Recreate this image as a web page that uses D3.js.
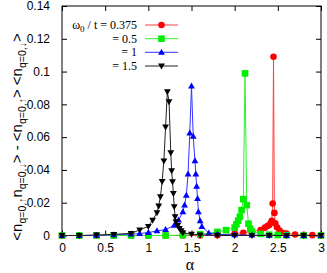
<!DOCTYPE html>
<html><head><meta charset="utf-8">
<script src="https://cdn.jsdelivr.net/npm/d3@7"></script>
<style>body{margin:0;background:#fff}svg{display:block}</style>
</head><body>
<svg id="c" width="327" height="273"></svg>
<script>
const xTicks = [0, 0.5, 1, 1.5, 2, 2.5, 3];
const yTicks = [0, 0.02, 0.04, 0.06, 0.08, 0.1, 0.12, 0.14];
const legendLabels = ["= 0.375", "= 0.5", "= 1", "= 1.5"];

const redX = [0,0.2,0.4,0.6,0.8,1.0,1.2,1.4,1.6,1.8,2.0,2.1,2.2,2.3,2.35,2.38,2.4,2.42,2.43,2.44,2.45,2.46,2.47,2.49,2.52,2.56,2.6,2.7,2.8,2.9,3.0];
const redY = [0,0,0,0,0,0,0,0,0,0.0002,0.0012,0.0017,0.0024,0.0034,0.0048,0.0058,0.0064,0.0078,0.009,0.0195,0.109,0.0138,0.0075,0.005,0.003,0.0015,0.0012,0.0006,0.0004,0.0002,0.0001];

const greenX = [0,0.2,0.4,0.6,0.8,1.0,1.2,1.4,1.6,1.8,1.9,2.0,2.02,2.04,2.06,2.08,2.1,2.12,2.14,2.16,2.18,2.2,2.3,2.4,2.5,2.6,2.8,3.0];
const greenY = [0,0,0,0,0,0,0,0.0002,0.0008,0.0022,0.0033,0.0048,0.0068,0.009,0.0115,0.0155,0.0222,0.0989,0.0185,0.0072,0.0042,0.0025,0.001,0.0005,0.0003,0.0002,0,0];

const blueX = [0,0.2,0.4,0.6,0.8,0.9,1.0,1.1,1.2,1.3,1.35,1.4,1.42,1.44,1.46,1.48,1.5,1.52,1.54,1.55,1.56,1.57,1.58,1.6,1.62,1.7,1.8,2.0,2.2,2.4,2.6,2.8,3.0];
const blueY = [0,0,0.0001,0.0004,0.0008,0.0012,0.0018,0.0028,0.0036,0.0062,0.0094,0.0145,0.0185,0.0245,0.0375,0.0625,0.0912,0.0605,0.0455,0.0375,0.03,0.0225,0.0145,0.009,0.0055,0.0015,0.0008,0.0004,0.0002,0.0001,0,0,0];

const blackX = [0,0.2,0.4,0.6,0.8,0.9,1.0,1.05,1.1,1.12,1.14,1.16,1.18,1.2,1.22,1.24,1.26,1.27,1.28,1.29,1.3,1.31,1.32,1.34,1.36,1.38,1.4,1.5,1.6,1.8,2.0,2.2,2.4,2.6,2.8,3.0];
const blackY = [0,0,0.0003,0.0007,0.0013,0.0034,0.0056,0.0094,0.014,0.018,0.0237,0.033,0.0455,0.0663,0.0877,0.0816,0.0505,0.0395,0.0328,0.0257,0.0176,0.0115,0.0084,0.0062,0.0044,0.003,0.0017,0.0008,0.0004,0.0002,0.0001,0,0,0,0,0];

const series = [
  {x: redX, y: redY, color: "#ff0000", line: "#ff4040", shape: "circle"},
  {x: greenX, y: greenY, color: "#00ee00", line: "#33ee33", shape: "square"},
  {x: blueX, y: blueY, color: "#0000ff", line: "#3333ff", shape: "up"},
  {x: blackX, y: blackY, color: "#000000", line: "#222222", shape: "down"}
];

const svg = d3.select("#c");
const L = 62, R = 321, T = 6, B = 235.5;
const x = d3.scaleLinear().domain([0, 3]).range([L, R]);
const y = d3.scaleLinear().domain([0, 0.14]).range([B, T]);
const sans = "'Liberation Sans', Arial, sans-serif";
const serif = "'Liberation Serif', 'Times New Roman', serif";

function marker(g, shape, color, cx, cy) {
  if (shape === "circle") {
    g.append("circle").attr("cx", cx).attr("cy", cy).attr("r", 3.3).attr("fill", color);
  } else if (shape === "square") {
    g.append("rect").attr("x", cx - 3.3).attr("y", cy - 3.3).attr("width", 6.6).attr("height", 6.6).attr("fill", color);
  } else if (shape === "up") {
    g.append("path").attr("d", `M${cx},${cy-3.6}L${cx+3.4},${cy+2.4}L${cx-3.4},${cy+2.4}Z`).attr("fill", color);
  } else {
    g.append("path").attr("d", `M${cx},${cy+3.6}L${cx+3.4},${cy-2.4}L${cx-3.4},${cy-2.4}Z`).attr("fill", color);
  }
}

// axes
const fmt = d => String(+d.toFixed(2));
const xAxis = svg.append("g").attr("transform", `translate(0,${B})`)
  .call(d3.axisBottom(x).tickValues(xTicks).tickSize(-5).tickPadding(8).tickFormat(fmt));
const xAxisTop = svg.append("g").attr("transform", `translate(0,${T})`)
  .call(d3.axisTop(x).tickValues(xTicks).tickSize(-5).tickFormat(""));
const yAxis = svg.append("g").attr("transform", `translate(${L},0)`)
  .call(d3.axisLeft(y).tickValues(yTicks).tickSize(-5).tickPadding(12).tickFormat(fmt));
const yAxisR = svg.append("g").attr("transform", `translate(${R},0)`)
  .call(d3.axisRight(y).tickValues(yTicks).tickSize(-5).tickFormat(""));
[xAxis, xAxisTop, yAxis, yAxisR].forEach(a => {
  a.select(".domain").remove();
  a.selectAll("line").attr("stroke", "#000");
  a.selectAll("text").attr("font-family", sans).attr("font-size", 12).attr("fill", "#000");
});
svg.append("rect").attr("x", L).attr("y", T).attr("width", R - L).attr("height", B - T)
  .attr("fill", "none").attr("stroke", "#000").attr("stroke-width", 1);

// series
const line = d3.line().x(d => x(d[0])).y(d => y(d[1]));
series.forEach(s => {
  const pts = s.x.map((v, i) => [v, s.y[i]]);
  svg.append("path").datum(pts).attr("d", line).attr("fill", "none")
    .attr("stroke", s.line).attr("stroke-width", 1);
  const g = svg.append("g");
  pts.forEach(p => marker(g, s.shape, s.color, x(p[0]), y(p[1])));
});

// legend
const lg = svg.append("g");
const rowsY = [25, 38.7, 52.3, 66];
series.forEach((s, i) => {
  const yy = rowsY[i];
  lg.append("line").attr("x1", 145).attr("x2", 178).attr("y1", yy).attr("y2", yy)
    .attr("stroke", s.line).attr("stroke-width", 1);
  marker(lg, s.shape, s.color, 161.5, yy);
  const t = lg.append("text").attr("x", 137).attr("y", yy + 3.8).attr("text-anchor", "end")
    .attr("font-family", serif).attr("font-size", 12).attr("fill", "#000");
  if (i === 0) {
    t.append("tspan").text("ω");
    t.append("tspan").attr("font-size", 9).attr("dy", 3).text("0");
    t.append("tspan").attr("dy", -3).text(" / t " + legendLabels[i]);
  } else {
    t.text(legendLabels[i]);
  }
});

// x label
svg.append("text").attr("x", 190).attr("y", 270).attr("text-anchor", "middle")
  .attr("font-family", serif).attr("font-size", 16).attr("fill", "#000").text("α");

// y label
const yl = svg.append("text").attr("transform", "translate(22,137) rotate(-90)")
  .attr("text-anchor", "middle").attr("font-family", sans).attr("font-size", 15).attr("fill", "#000");
const parts = [["<n", "q=0,↑"], ["n", "q=0,↓"], ["> - <n", "q=0,↑"], ["> <n", "q=0,↓"], [">", null]];
let shift = 0;
parts.forEach(p => {
  yl.append("tspan").attr("dy", -shift).text(p[0]);
  shift = 0;
  if (p[1]) {
    yl.append("tspan").attr("font-size", 10.5).attr("dy", 4).text(p[1]);
    shift = 4;
  }
});
</script>
</body></html>
